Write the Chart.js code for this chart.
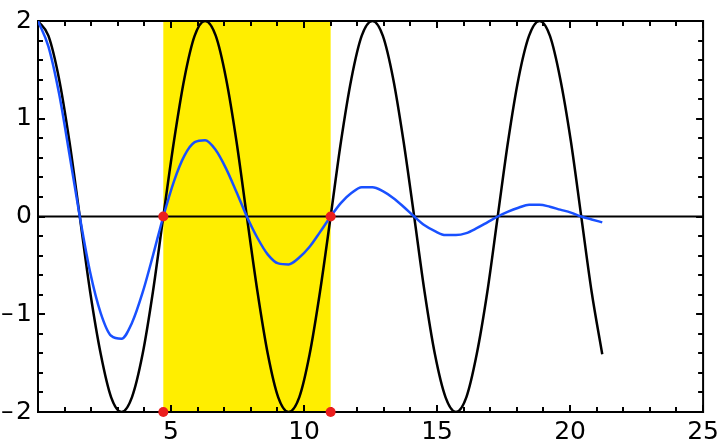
<!DOCTYPE html>
<html>
<head>
<meta charset="utf-8">
<script src="https://cdn.jsdelivr.net/npm/chart.js@4/dist/chart.umd.min.js"></script>
<style>
    html, body { margin: 0; padding: 0; background: #fff; }
    canvas { display: block; }
</style>
</head>
<body>
<canvas id="waveChart" width="724" height="444"></canvas>
<script>
// sample positions along x
const xs = [0, 0.39, 0.79, 1.18, 1.57, 1.96, 2.36, 2.75, 3.14, 3.53, 3.93, 4.32, 4.71, 5.11, 5.50, 5.89,
    6.28, 6.68, 7.07, 7.46, 7.85, 8.25, 8.64, 9.03, 9.42, 9.82, 10.21, 10.60, 11.00, 11.39, 11.78, 12.17,
    12.57, 12.96, 13.35, 13.74, 14.14, 14.53, 14.92, 15.32, 15.71, 16.10, 16.49, 16.89, 17.28, 17.67, 18.06, 18.46,
    18.85, 19.24, 19.63, 20.03, 20.42, 20.81, 21.21];

// black wave
const blackY = [2, 1.85, 1.41, 0.77, 0, -0.77, -1.41, -1.85, -2, -1.85, -1.41, -0.77, 0, 0.77, 1.41, 1.85,
    2, 1.85, 1.41, 0.77, 0, -0.77, -1.41, -1.85, -2, -1.85, -1.41, -0.77, 0, 0.77, 1.41, 1.85,
    2, 1.85, 1.41, 0.77, 0, -0.77, -1.41, -1.85, -2, -1.85, -1.41, -0.77, 0, 0.77, 1.41, 1.85,
    2, 1.85, 1.41, 0.77, 0, -0.77, -1.41];

// blue (damped) wave
const blueY = [2, 1.74, 1.26, 0.64, 0, -0.57, -0.99, -1.22, -1.25, -1.09, -0.78, -0.40, 0, 0.36, 0.62, 0.76,
    0.78, 0.68, 0.49, 0.25, 0, -0.22, -0.39, -0.48, -0.49, -0.42, -0.31, -0.16, 0, 0.14, 0.24, 0.30,
    0.30, 0.26, 0.19, 0.10, 0, -0.09, -0.15, -0.19, -0.19, -0.17, -0.12, -0.06, 0, 0.05, 0.09, 0.12,
    0.12, 0.10, 0.07, 0.04, 0, -0.03, -0.06];

// highlighted interval and its marker dots
const shadeFrom = 4.71;
const shadeTo = 11.0;
const markerXs = [4.71, 11.0];
const markerYs = [0, -2];

const xMin = 0, xMax = 25;
const yMin = -2, yMax = 2;

const toPoints = (xArr, yArr) => xArr.map((x, i) => ({ x: x, y: yArr[i] }));

const markers = [];
markerXs.forEach(x => markerYs.forEach(y => markers.push({ x: x, y: y })));

const fontFamily = '"DejaVu Sans", sans-serif';

// yellow band + frame with inward ticks (Mathematica style)
const framePlugin = {
    id: 'frame',
    beforeDatasetsDraw(chart) {
        const { ctx, chartArea: a, scales: { x, y } } = chart;
        ctx.save();
        ctx.fillStyle = 'rgb(255, 238, 0)';
        const x0 = x.getPixelForValue(shadeFrom);
        const x1 = x.getPixelForValue(shadeTo);
        ctx.fillRect(x0, y.getPixelForValue(yMax), x1 - x0, y.getPixelForValue(yMin) - y.getPixelForValue(yMax));

        ctx.strokeStyle = '#000';
        ctx.lineWidth = 2;
        ctx.strokeRect(a.left, a.top, a.right - a.left, a.bottom - a.top);

        ctx.beginPath();
        for (let v = xMin; v <= xMax; v++) {
            const px = Math.round(x.getPixelForValue(v));
            const len = v % 5 === 0 ? 7 : 5;
            ctx.moveTo(px, a.bottom); ctx.lineTo(px, a.bottom - len);
            ctx.moveTo(px, a.top); ctx.lineTo(px, a.top + len);
        }
        for (let k = 0; k <= 20; k++) {
            const v = yMin + k * 0.2;
            const py = Math.round(y.getPixelForValue(v));
            const len = k % 5 === 0 ? 7 : 5;
            ctx.moveTo(a.left, py); ctx.lineTo(a.left + len, py);
            ctx.moveTo(a.right, py); ctx.lineTo(a.right - len, py);
        }
        ctx.stroke();
        ctx.restore();
    }
};

const ctx = document.getElementById('waveChart').getContext('2d');
new Chart(ctx, {
    type: 'scatter',
    data: {
        datasets: [
            {
                label: 'axis',
                data: [{ x: xMin, y: 0 }, { x: xMax, y: 0 }],
                showLine: true,
                borderColor: '#000',
                borderWidth: 2,
                pointRadius: 0,
                order: 3
            },
            {
                label: 'black',
                data: toPoints(xs, blackY),
                showLine: true,
                borderColor: '#000',
                borderWidth: 2.5,
                pointRadius: 0,
                cubicInterpolationMode: 'monotone',
                order: 2
            },
            {
                label: 'blue',
                data: toPoints(xs, blueY),
                showLine: true,
                borderColor: 'rgb(25, 80, 255)',
                borderWidth: 2.5,
                pointRadius: 0,
                cubicInterpolationMode: 'monotone',
                order: 1
            },
            {
                label: 'markers',
                data: markers,
                backgroundColor: 'rgb(235, 30, 30)',
                borderColor: 'rgb(235, 30, 30)',
                borderWidth: 0,
                pointRadius: 5,
                clip: false,
                order: 0
            }
        ]
    },
    options: {
        responsive: false,
        animation: false,
        layout: { padding: { top: 15, right: 17, left: 0, bottom: 0 } },
        plugins: { legend: { display: false }, tooltip: { enabled: false } },
        scales: {
            x: {
                type: 'linear',
                min: xMin,
                max: xMax,
                grid: { display: false, drawTicks: false },
                border: { display: false },
                ticks: {
                    stepSize: 5,
                    autoSkip: false,
                    maxRotation: 0,
                    padding: 5,
                    color: '#000',
                    font: { family: fontFamily, size: 25 },
                    callback: v => v === 0 ? '' : String(v)
                },
                afterFit: s => { s.height = 32; }
            },
            y: {
                type: 'linear',
                min: yMin,
                max: yMax,
                grid: { display: false, drawTicks: false },
                border: { display: false },
                ticks: {
                    stepSize: 1,
                    autoSkip: false,
                    padding: 6,
                    color: '#000',
                    font: { family: fontFamily, size: 25 },
                    callback: v => v < 0 ? '\u2013\u200A' + Math.abs(v) : String(v)
                },
                afterFit: s => { s.width = 38; }
            }
        }
    },
    plugins: [framePlugin]
});
</script>
</body>
</html>
